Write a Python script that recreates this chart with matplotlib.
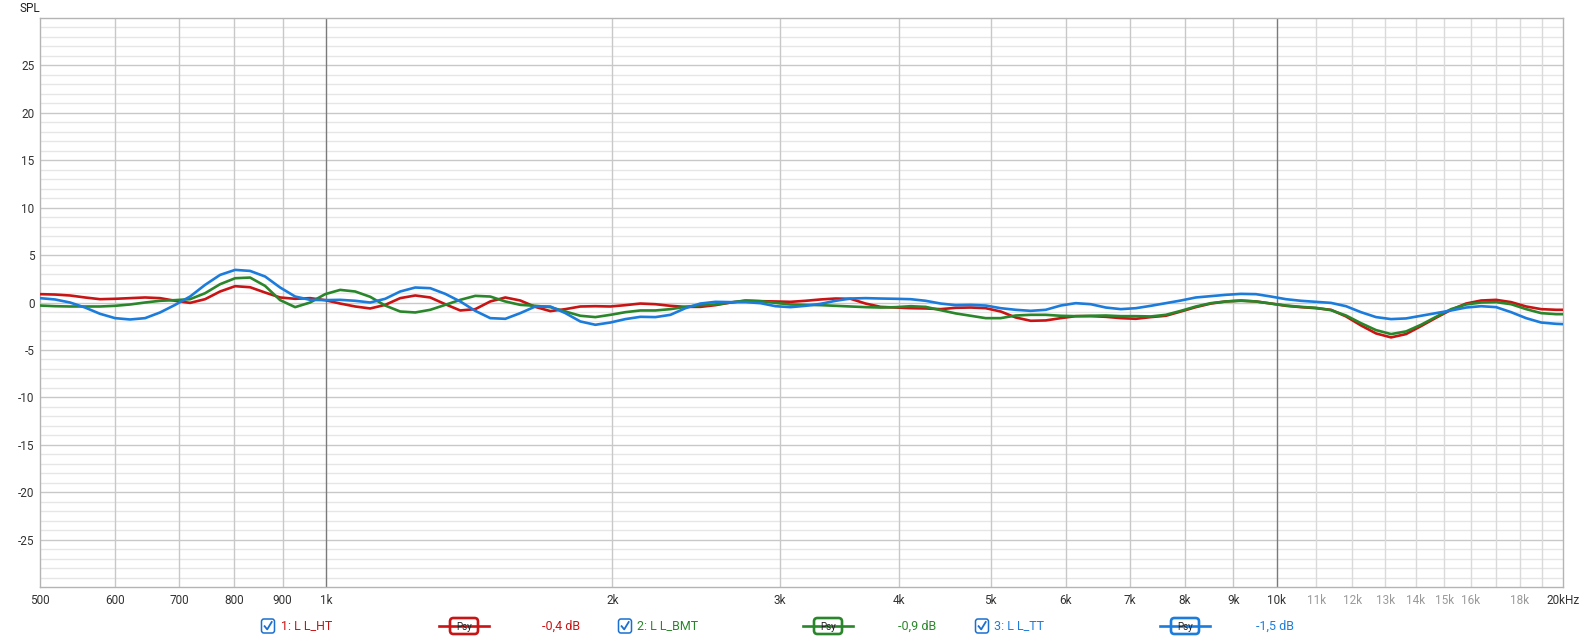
import matplotlib
matplotlib.use("Agg")
import matplotlib.pyplot as plt
from matplotlib.patches import FancyBboxPatch
from matplotlib.lines import Line2D

plt.rcParams['font.family'] = ['Roboto', 'DejaVu Sans']

# ---------------- data ----------------
freq_hz = [500, 518.5, 537.7, 557.6, 578.2, 599.7, 621.9, 644.9, 668.8, 693.6,
           719.2, 745.8, 773.4, 802.1, 831.7, 862.5, 894.5, 927.6, 961.9, 997.5,
           1034.5, 1072.8, 1112.5, 1153.7, 1196.4, 1240.7, 1286.7, 1334.3, 1383.7, 1434.9,
           1488.1, 1543.2, 1600.3, 1659.6, 1721.0, 1784.8, 1850.9, 1919.4, 1990.5, 2064.2,
           2140.6, 2219.9, 2302.1, 2387.3, 2475.7, 2567.4, 2662.5, 2761.1, 2863.3, 2969.4,
           3079.3, 3193.3, 3311.6, 3434.2, 3561.4, 3693.3, 3830.0, 3971.9, 4119.0, 4271.5,
           4429.7, 4593.7, 4763.8, 4940.2, 5123.2, 5312.9, 5509.6, 5713.6, 5925.2, 6144.6,
           6372.2, 6608.2, 6852.9, 7106.6, 7369.8, 7642.7, 7925.7, 8219.2, 8523.6, 8839.2,
           9166.5, 9506.0, 9858.0, 10223, 10602, 10994, 11401, 11824, 12261, 12716,
           13187, 13675, 14181, 14706, 15251, 15816, 16401, 17009, 17638, 18291,
           18969, 19671, 20000]

spl_ht = [0.88, 0.84, 0.74, 0.53, 0.35, 0.39, 0.46, 0.53, 0.46, 0.18,
          -0.04, 0.35, 1.16, 1.72, 1.61, 1.05, 0.53, 0.39, 0.46, 0.25,
          -0.11, -0.42, -0.63, -0.25, 0.46, 0.74, 0.53, -0.18, -0.84, -0.70,
          0.11, 0.53, 0.21, -0.46, -0.91, -0.70, -0.42, -0.39, -0.42, -0.28,
          -0.11, -0.18, -0.35, -0.46, -0.46, -0.28, 0.0, 0.18, 0.14, 0.11,
          0.07, 0.18, 0.32, 0.42, 0.39, -0.11, -0.46, -0.53, -0.60, -0.63,
          -0.70, -0.56, -0.53, -0.60, -0.95, -1.58, -1.93, -1.89, -1.65, -1.44,
          -1.44, -1.51, -1.65, -1.72, -1.54, -1.40, -0.95, -0.49, -0.11, 0.11,
          0.21, 0.11, -0.11, -0.35, -0.49, -0.60, -0.77, -1.47, -2.42, -3.26,
          -3.68, -3.33, -2.49, -1.61, -0.77, -0.11, 0.21, 0.28, 0.04, -0.42,
          -0.70, -0.77, -0.77]

spl_bmt = [-0.32, -0.39, -0.42, -0.42, -0.42, -0.35, -0.21, 0.0, 0.18, 0.25,
           0.35, 0.98, 1.93, 2.56, 2.63, 1.75, 0.25, -0.49, 0.0, 0.88,
           1.33, 1.16, 0.60, -0.32, -0.95, -1.05, -0.77, -0.25, 0.28, 0.70,
           0.63, 0.11, -0.25, -0.35, -0.49, -0.95, -1.40, -1.54, -1.30, -1.02,
           -0.84, -0.84, -0.70, -0.46, -0.28, -0.21, 0.0, 0.21, 0.14, -0.04,
           -0.21, -0.25, -0.28, -0.35, -0.42, -0.49, -0.53, -0.49, -0.39, -0.46,
           -0.81, -1.15, -1.40, -1.65, -1.65, -1.37, -1.30, -1.30, -1.40, -1.44,
           -1.40, -1.37, -1.44, -1.44, -1.47, -1.30, -0.88, -0.42, -0.07, 0.11,
           0.18, 0.11, -0.11, -0.32, -0.46, -0.56, -0.81, -1.37, -2.18, -2.91,
           -3.33, -3.05, -2.35, -1.51, -0.70, -0.21, 0.0, 0.04, -0.18, -0.70,
           -1.12, -1.23, -1.23]

spl_tt = [0.46, 0.32, 0.0, -0.53, -1.19, -1.65, -1.79, -1.65, -1.05, -0.25,
          0.63, 1.86, 2.91, 3.44, 3.33, 2.74, 1.58, 0.63, 0.28, 0.25,
          0.28, 0.18, 0.0, 0.39, 1.16, 1.58, 1.51, 0.91, 0.11, -0.88,
          -1.65, -1.72, -1.12, -0.42, -0.42, -1.12, -2.00, -2.35, -2.11, -1.75,
          -1.51, -1.54, -1.30, -0.60, -0.11, 0.07, 0.04, 0.04, -0.07, -0.39,
          -0.49, -0.35, -0.14, 0.18, 0.42, 0.46, 0.42, 0.39, 0.35, 0.18,
          -0.11, -0.28, -0.25, -0.32, -0.60, -0.77, -0.88, -0.77, -0.32, -0.07,
          -0.18, -0.53, -0.70, -0.60, -0.35, -0.07, 0.21, 0.53, 0.67, 0.81,
          0.91, 0.88, 0.63, 0.35, 0.18, 0.07, -0.04, -0.39, -1.02, -1.54,
          -1.75, -1.68, -1.40, -1.12, -0.84, -0.53, -0.39, -0.49, -1.02, -1.65,
          -2.11, -2.25, -2.28]

series_names = ["1: L L_HT", "2: L L_BMT", "3: L L_TT"]
series_levels = ["-0,4 dB", "-0,9 dB", "-1,5 dB"]
series_colors = ["#C81414", "#2A862A", "#1C7CDC"]

x_tick_values = [500, 600, 700, 800, 900, 1000, 2000, 3000, 4000, 5000, 6000,
                 7000, 8000, 9000, 10000, 11000, 12000, 13000, 14000, 15000,
                 16000, 18000, 20000]
x_tick_labels = ["500", "600", "700", "800", "900", "1k", "2k", "3k", "4k", "5k",
                 "6k", "7k", "8k", "9k", "10k", "11k", "12k", "13k", "14k", "15k",
                 "16k", "18k", "20kHz"]
x_grid_low = [600, 700, 800, 900, 2000, 3000, 4000, 5000, 6000, 7000, 8000, 9000]
x_grid_decade = [1000, 10000]
x_grid_high = [11000, 12000, 13000, 14000, 15000, 16000, 17000, 18000, 19000]
y_tick_values = [-25, -20, -15, -10, -5, 0, 5, 10, 15, 20, 25]

# ---------------- figure ----------------
W, H = 1583, 638
fig = plt.figure(figsize=(W / 100, H / 100), dpi=100)
fig.patch.set_facecolor("white")
ax = fig.add_axes([40 / W, 1 - 587 / H, 1523 / W, 569 / H])
ax.set_xscale("log")
ax.set_xlim(500, 20000)
ax.set_ylim(-30, 30)

# grid
for v in range(-29, 30):
    if v % 5 == 0:
        ax.axhline(v, color="#c8c8c8", lw=1.0, zorder=1)
    else:
        ax.axhline(v, color="#e6e6e6", lw=1.0, zorder=0.5)
for f in x_grid_low:
    ax.axvline(f, color="#c8c8c8", lw=1.0, zorder=1)
for f in x_grid_high:
    ax.axvline(f, color="#dadada", lw=1.0, zorder=1)
for f in x_grid_decade:
    ax.axvline(f, color="#7a7a7a", lw=1.0, zorder=1.1)

for sp in ax.spines.values():
    sp.set_color("#b4b4b4")
    sp.set_linewidth(1.0)

ax.set_xticks(x_tick_values)
ax.set_xticklabels(x_tick_labels)
ax.xaxis.set_minor_locator(matplotlib.ticker.NullLocator())
ax.set_yticks(y_tick_values)
ax.set_yticklabels([str(v) for v in y_tick_values])
ax.tick_params(axis="both", length=0, labelsize=8.5, labelcolor="#333333")
ax.tick_params(axis="x", pad=5)
ax.tick_params(axis="y", pad=4)
for lab, val in zip(ax.get_xticklabels(), x_tick_values):
    if 10000 < val < 20000:
        lab.set_color("#9a9a9a")

for spl, col in zip([spl_ht, spl_bmt, spl_tt], series_colors):
    ax.plot(freq_hz, spl, color=col, lw=1.9, zorder=3,
            solid_capstyle="round", solid_joinstyle="round")

fig.text(20 / W, 1 - 8 / H, "SPL", fontsize=8.5, color="#222222", va="center", ha="left")

# ---------------- legend (pixel overlay) ----------------
ov = fig.add_axes([0, 0, 1, 1])
ov.set_xlim(0, W)
ov.set_ylim(H, 0)
ov.axis("off")
ov.patch.set_alpha(0)

ly = 626
check_x = [268, 625, 982]
name_x = [281, 637, 994]
psy_x = [464, 828, 1185]
level_x = [542, 898, 1256]

for i in range(3):
    col = series_colors[i]
    cx = check_x[i]
    ov.add_patch(FancyBboxPatch((cx - 6.5, ly - 7), 13, 14,
                                boxstyle="round,pad=0,rounding_size=2.5",
                                fc="white", ec="#1a6fd0", lw=1.1))
    ov.add_line(Line2D([cx - 3.4, cx - 0.8, cx + 3.7], [ly + 0.2, ly + 3.4, ly - 4.0],
                       color="#1a6fd0", lw=1.3))
    ov.text(name_x[i], ly, series_names[i], color=col, fontsize=9,
            va="center", ha="left")
    px = psy_x[i]
    ov.add_line(Line2D([px - 25, px + 25], [ly, ly], color=col, lw=1.9))
    ov.add_patch(FancyBboxPatch((px - 14, ly - 8), 28, 16,
                                boxstyle="round,pad=0,rounding_size=3.5",
                                fc="white", ec=col, lw=1.9))
    ov.text(px, ly + 0.5, "Psy", color="#222222", fontsize=7, va="center", ha="center")
    ov.text(level_x[i], ly, series_levels[i], color=col, fontsize=9,
            va="center", ha="left")

fig.savefig("out.png", dpi=100, facecolor="white")
